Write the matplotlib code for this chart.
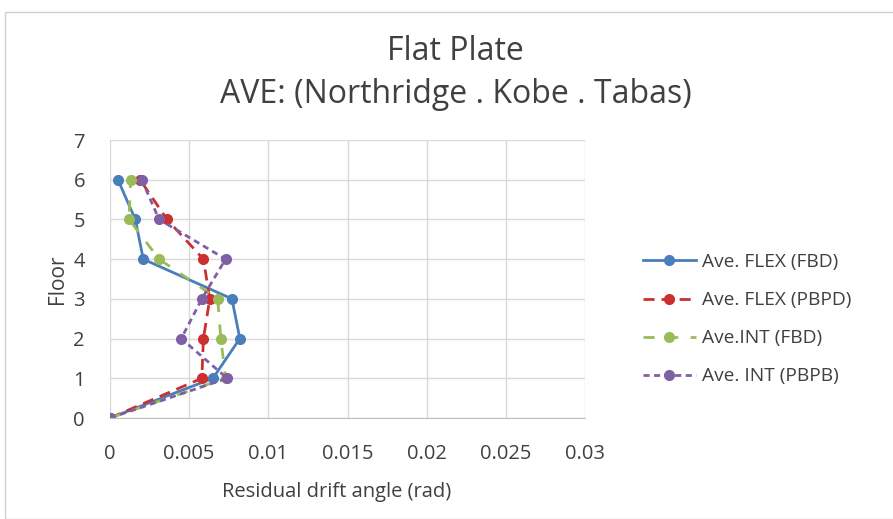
import matplotlib
matplotlib.use("Agg")
import matplotlib.pyplot as plt
from matplotlib.patches import Rectangle

floors = [0, 1, 2, 3, 4, 5, 6]
flex_fbd = [0.0, 0.0065, 0.0082, 0.0077, 0.0021, 0.0016, 0.0005]
flex_pbpd = [0.0, 0.0058, 0.0059, 0.0063, 0.0059, 0.0036, 0.0019]
int_fbd = [0.0, 0.0073, 0.0070, 0.0068, 0.0031, 0.0012, 0.0013]
int_pbpb = [0.0, 0.0074, 0.0045, 0.0058, 0.0073, 0.0031, 0.0020]

labels = ["Ave. FLEX (FBD)", "Ave. FLEX (PBPD)", "Ave.INT (FBD)", "Ave. INT (PBPB)"]
xticks = [0, 0.005, 0.01, 0.015, 0.02, 0.025, 0.03]
xticklabels = ["0", "0.005", "0.01", "0.015", "0.02", "0.025", "0.03"]
yticks = [0, 1, 2, 3, 4, 5, 6, 7]

plt.rcParams['font.family'] = ['Open Sans', 'DejaVu Sans']

fig = plt.figure(figsize=(8.93, 5.19), dpi=100)
fig.patches.append(Rectangle((5/893, 0.0), 1.2, 1 - 12/519, transform=fig.transFigure,
                             fill=False, edgecolor='#d0d0d0', linewidth=1.0))
ax = fig.add_axes([110/893, 1 - 418/519, 475/893, 278/519])

styles = [
    dict(color='#4a7ebb', linestyle='-'),
    dict(color='#cc2f2f', linestyle=(0, (4, 2.5))),
    dict(color='#9bbb59', linestyle=(0, (4, 4.5))),
    dict(color='#7f5fa5', linestyle=(0, (2.2, 1.6))),
]
series = [flex_fbd, flex_pbpd, int_fbd, int_pbpb]
for s, st, lab in zip(series, styles, labels):
    ax.plot(s, floors, marker='o', markersize=7, linewidth=2.0, label=lab, **st)

ax.set_xlim(0, 0.03)
ax.set_ylim(0, 7)
ax.set_xticks(xticks)
ax.set_xticklabels(xticklabels)
ax.set_yticks(yticks)
ax.grid(True, color='#d9d9d9', linewidth=1.0)
ax.set_axisbelow(True)
for sp in ['top', 'right', 'left']:
    ax.spines[sp].set_visible(False)
ax.spines['bottom'].set_color('#bfbfbf')
ax.tick_params(axis='x', length=0, labelsize=14.5, colors='#404040', pad=19)
ax.tick_params(axis='y', length=0, labelsize=14.5, colors='#404040', pad=18)
ax.set_xlabel("Residual drift angle (rad)", fontsize=14.5, color='#404040', labelpad=12)
ax.xaxis.set_label_coords(0.477, -0.23)
ax.set_ylabel("Floor", fontsize=15, color='#404040', labelpad=4)

fig.text(0.51, 0.90, "Flat Plate", ha='center', va='center', fontsize=23, color='#404040')
fig.text(0.51, 0.818, "AVE: (Northridge . Kobe . Tabas)", ha='center', va='center', fontsize=23, color='#404040')

leg = ax.legend(loc='center left', bbox_to_anchor=(1.085, 0.355), frameon=False, fontsize=13.8,
                handlelength=2.8, labelspacing=1.05, handletextpad=0.3)
for t in leg.get_texts():
    t.set_color('#404040')

fig.savefig("out.png", dpi=100)
